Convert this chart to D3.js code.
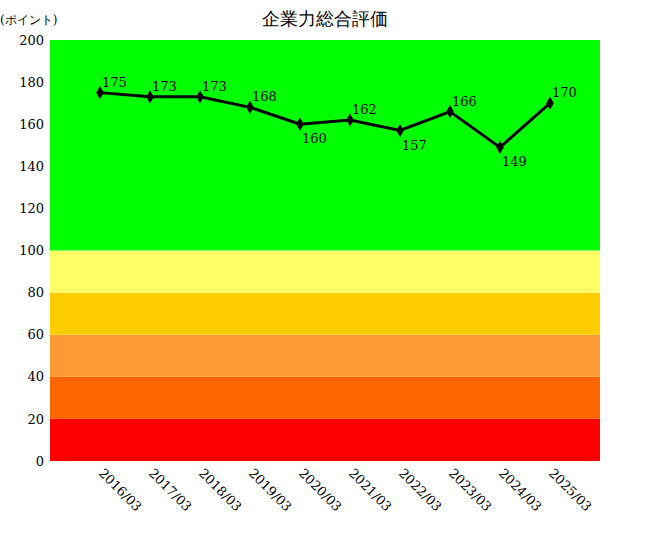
<!DOCTYPE html>
<html><head><meta charset="utf-8">
<script src="https://cdn.jsdelivr.net/npm/d3@7"></script>
<style>body{margin:0;background:#fff}text{font-family:"DejaVu Serif","Liberation Serif",serif}</style>
</head><body><svg id="c" width="650" height="540"></svg>
<script>
const categories=["2016/03","2017/03","2018/03","2019/03","2020/03","2021/03","2022/03","2023/03","2024/03","2025/03"];
const values=[175,173,173,168,160,162,157,166,149,170];
const labelBelow=[false,false,false,false,true,false,true,false,true,false];
const bands=[[0,20,"#ff0000"],[20,40,"#ff6600"],[40,60,"#ff9933"],[60,80,"#ffcc00"],[80,100,"#ffff66"],[100,200,"#00ff00"]];
const yTicks=[0,20,40,60,80,100,120,140,160,180,200];
const svg=d3.select("#c");
const x=d3.scalePoint().domain(categories).range([50,600]).padding(1);
const y=d3.scaleLinear().domain([0,200]).range([461,40]);
svg.selectAll("rect.b").data(bands).join("rect").attr("x",50).attr("width",550)
 .attr("y",d=>y(d[1])).attr("height",d=>y(d[0])-y(d[1])).attr("fill",d=>d[2]);
const ya=svg.append("g").attr("transform","translate(50,0)").call(d3.axisLeft(y).tickValues(yTicks).tickSize(0).tickPadding(6));
ya.select(".domain").remove();
ya.selectAll("text").attr("font-size",13).attr("fill","#000").attr("font-family","DejaVu Serif");
svg.selectAll("text.xl").data(categories).join("text").attr("class","xl")
 .attr("transform",d=>`translate(${x(d)-2},${474}) rotate(45)`).attr("font-size",13).text(d=>d);
const line=d3.line().x((d,i)=>x(categories[i])).y(d=>y(d));
svg.append("path").datum(values).attr("d",line).attr("fill","none").attr("stroke","#000").attr("stroke-width",3);
svg.selectAll("path.m").data(values).join("path").attr("class","m")
 .attr("d",d3.symbol(d3.symbolDiamond,50)).attr("transform",(d,i)=>`translate(${x(categories[i])},${y(d)})`);
svg.selectAll("text.v").data(values).join("text").attr("font-size",13)
 .attr("x",(d,i)=>x(categories[i])+2).attr("y",(d,i)=>y(d)+(labelBelow[i]?19:-6)).text(d=>d);
svg.append("text").attr("x",325).attr("y",25).attr("text-anchor","middle").attr("font-size",18)
 .attr("font-family","Noto Sans CJK JP").text("企業力総合評価");
svg.append("text").attr("x",0).attr("y",24).attr("font-size",12).attr("font-family","Noto Sans CJK JP").text("(ポイント)");
</script></body></html>
